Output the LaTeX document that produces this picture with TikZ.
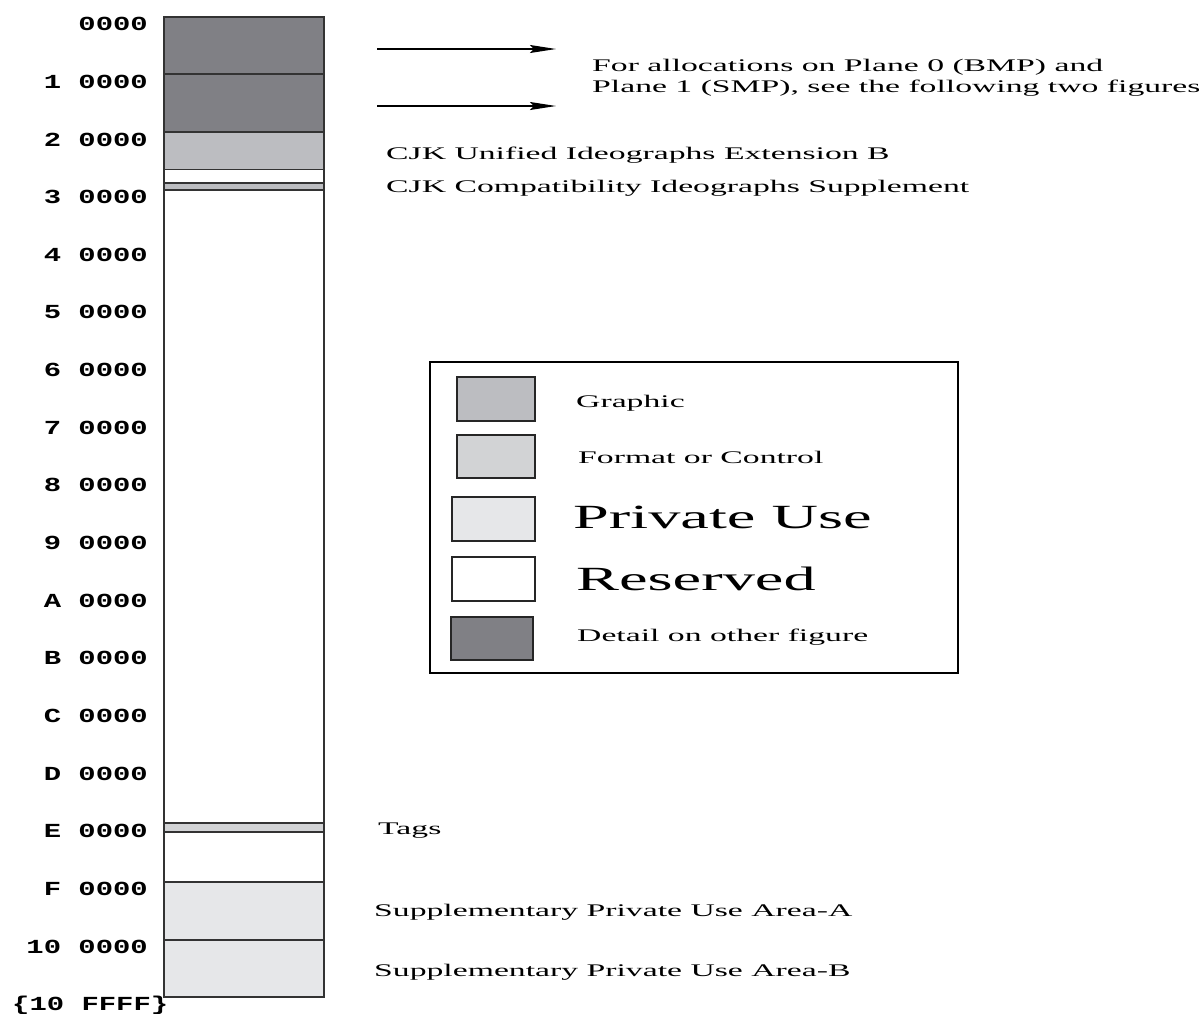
\documentclass[tikz,border=0pt]{standalone}
\usepackage{fontspec}
\setmainfont{Liberation Serif}[FakeStretch=1.9]
\newfontfamily\hexfont{Liberation Mono}[FakeStretch=1.45]
\usetikzlibrary{arrows.meta}

\definecolor{detailgrau}{HTML}{808085}
\definecolor{grafikgrau}{HTML}{BCBDC1}
\definecolor{formatgrau}{HTML}{D2D3D5}
\definecolor{privatgrau}{HTML}{E6E7E9}

\tikzset{
	feld/.style={draw=black!80, line width=1.1},
	hexlabel/.style={anchor=base east, inner sep=0, font=\hexfont\bfseries\fontsize{20}{22}\selectfont},
	infotext/.style={anchor=base west, inner sep=0, font=\fontsize{17.8}{20}\selectfont},
	grosstext/.style={anchor=base west, inner sep=0, font=\fontsize{34}{36}\selectfont},
	swatch/.style={draw=black!85, line width=1.2},
	pfeil/.style={line width=1.3, -{Stealth[length=26bp, width=8bp, inset=4bp]}},
}

\begin{document}
\begin{tikzpicture}[x=1bp, y=-1bp]
\useasboundingbox (0,0) rectangle (1199,1014);

% Ebenen 0 bis 10
\begin{scope}[local bounding box=Ebenen]
	% Flaechen
	\fill[detailgrau] (164,17) rectangle (324,132);
	\fill[grafikgrau] (164,132) rectangle (324,169.5);
	\fill[grafikgrau] (164,183) rectangle (324,190);
	\fill[formatgrau] (164,823) rectangle (324,832);
	\fill[privatgrau] (164,882) rectangle (324,997);
	% Trennlinien
	\foreach \y in {74,132,169.5,183,823,832,882,940}
		\draw[feld] (164,\y) -- (324,\y);
	\draw[feld, line width=2.4] (164,190) -- (324,190);
	\draw[feld, line width=1.6] (164,17) rectangle (324,997);
\end{scope}

% Adressen beschriften
\foreach \k/\t in {0/0000, 1/1 0000, 2/2 0000, 3/3 0000, 4/4 0000, 5/5 0000,
	6/6 0000, 7/7 0000, 8/8 0000, 9/9 0000, 10/A 0000, 11/B 0000, 12/C 0000,
	13/D 0000, 14/E 0000, 15/F 0000, 16/10 0000}
	\node[hexlabel] (hex\k) at (148,{30.7+57.65*\k}) {\t};
\node[hexlabel, anchor=base west] (hexend) at (12,1010.8) {\{10 FFFF\}};

% Verweis auf BMP und SMP
\coordinate (bmp) at (377,49);
\coordinate (bmpspitze) at (556,49);
\coordinate (smp) at (377,106);
\coordinate (smpspitze) at (556,106);
\draw[pfeil] (bmp) -- (bmpspitze);
\draw[pfeil] (smp) -- (smpspitze);
\node[infotext] (verweisA) at (592,71.7) {For allocations on Plane 0 (BMP) and};
\node[infotext] (verweisB) at (592,92.3) {Plane 1 (SMP), see the following two figures};

% Bereiche benennen
\node[infotext] (extB) at (386,159) {CJK Unified Ideographs Extension B};
\node[infotext] (compsup) at (386,192) {CJK Compatibility Ideographs Supplement};
\node[infotext] (tags) at (378,834) {Tags};
\node[infotext] (puaA) at (374,916) {Supplementary Private Use Area-A};
\node[infotext] (puaB) at (374,976.7) {Supplementary Private Use Area-B};

% Legende
\begin{scope}[local bounding box=Legende]
	\draw[line width=2] (430,362) rectangle (958,673);
	\draw[swatch, fill=grafikgrau] (457,377) rectangle (535,421);
	\draw[swatch, fill=formatgrau] (457,435) rectangle (535,478);
	\draw[swatch, fill=privatgrau] (452,497) rectangle (535,541);
	\draw[swatch, fill=white] (452,557) rectangle (535,601);
	\draw[swatch, fill=detailgrau] (451,617) rectangle (533,660);
	\node[infotext] (lgrafik) at (576,407) {Graphic};
	\node[infotext] (lformat) at (578,463) {Format or Control};
	\node[grosstext] (lprivat) at (573,528) {Private Use};
	\node[grosstext] (lres) at (576,590) {Reserved};
	\node[infotext] (ldetail) at (577,641) {Detail on other figure};
\end{scope}
\end{tikzpicture}
\end{document}
